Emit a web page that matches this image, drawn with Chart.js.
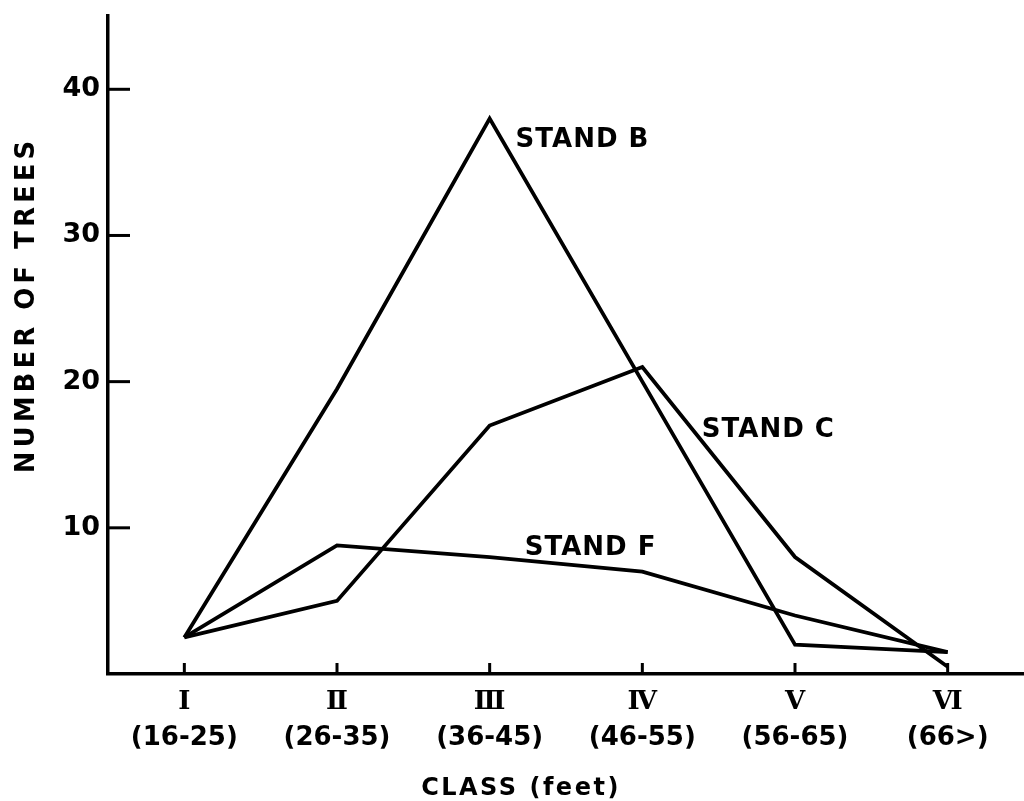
<!DOCTYPE html>
<html>
<head>
<meta charset="utf-8">
<script src="https://cdn.jsdelivr.net/npm/chart.js@4.4.1/dist/chart.umd.min.js"></script>
<style>
  html, body { margin: 0; padding: 0; background: #fff; }
  canvas { display: block; }
</style>
</head>
<body>
<canvas id="treeChart" width="1024" height="801"></canvas>
<script>
// height classes along the bottom
const romanLabels = ['Ⅰ', 'Ⅱ', 'Ⅲ', 'Ⅳ', 'Ⅴ', 'Ⅵ']
const rangeLabels = ['(16-25)', '(26-35)', '(36-45)', '(46-55)', '(56-65)', '(66>)']

// number of trees per class, one array per stand
const standB = [2.5, 19.5, 38, 20, 2, 1.5]
const standC = [2.5, 5, 17, 21, 8, 0.5]
const standF = [2.5, 8.8, 8, 7, 4, 1.5]

const yTicks = [10, 20, 30, 40]

// stand names written next to their lines: [text, class position, value]
const standNotes = [
	['STAND B', 2.17, 36.5],
	['STAND C', 3.39, 16.7],
	['STAND F', 2.23, 8.6]
]

const SANS = '"DejaVu Sans", sans-serif'
const SERIF = '"DejaVu Serif", serif'

function line(name, values) {
	return {
		label: name,
		data: values,
		borderColor: '#000',
		borderWidth: 3.8,
		pointRadius: 0,
		tension: 0,
		fill: false
	}
}

// short inward tick marks, axis titles and the stand names
const drawExtras = {
	id: 'drawExtras',
	afterDraw(chart) {
		const {ctx, chartArea, scales: {x, y}} = chart
		ctx.save()
		ctx.strokeStyle = '#000'
		ctx.fillStyle = '#000'
		ctx.lineWidth = 3
		yTicks.forEach(v => {
			const py = y.getPixelForValue(v)
			ctx.beginPath()
			ctx.moveTo(chartArea.left, py)
			ctx.lineTo(chartArea.left + 22, py)
			ctx.stroke()
		})
		romanLabels.forEach((l, i) => {
			const px = x.getPixelForValue(i)
			ctx.beginPath()
			ctx.moveTo(px, chartArea.bottom)
			ctx.lineTo(px, chartArea.bottom - 11)
			ctx.stroke()
		})

		ctx.font = 'bold 26px ' + SANS
		ctx.letterSpacing = '1px'
		ctx.textAlign = 'left'
		ctx.textBaseline = 'middle'
		standNotes.forEach(([text, at, value]) => {
			ctx.fillText(text, x.getPixelForValue(at), y.getPixelForValue(value))
		})

		ctx.textAlign = 'center'
		ctx.letterSpacing = '4px'
		ctx.save()
		ctx.translate(27, 305)
		ctx.rotate(-Math.PI / 2)
		ctx.fillText('NUMBER OF TREES', 0, 0)
		ctx.restore()

		ctx.font = 'bold 24px ' + SANS
		ctx.letterSpacing = '2.5px'
		ctx.fillText('CLASS (feet)', 521, 789)
		ctx.restore()
	}
}

const chart = new Chart('treeChart', {
	type: 'line',
	data: {
		labels: romanLabels,
		datasets: [line('Stand B', standB), line('Stand C', standC), line('Stand F', standF)]
	},
	options: {
		responsive: false,
		animation: false,
		layout: {padding: {top: 0, right: 0, left: 0, bottom: 0}},
		plugins: {legend: {display: false}, tooltip: {enabled: false}},
		scales: {
			x: {
				offset: true,
				weight: 0,
				grid: {display: false},
				border: {display: true, color: '#000', width: 3.5},
				ticks: {
					color: '#000',
					padding: 7,
					maxRotation: 0,
					font: {family: SERIF, size: 26, weight: 'bold', lineHeight: 1}
				},
				afterFit(scale) { scale.height = 40 }
			},
			x2: {
				type: 'category',
				position: 'bottom',
				labels: rangeLabels,
				offset: true,
				weight: 1,
				grid: {display: false},
				border: {display: false},
				ticks: {
					color: '#000',
					padding: 3,
					maxRotation: 0,
					font: {family: SANS, size: 26, weight: 'bold', lineHeight: 1}
				},
				afterFit(scale) { scale.height = 87 }
			},
			y: {
				min: 0,
				max: 45,
				grid: {display: false},
				border: {display: true, color: '#000', width: 3.5},
				ticks: {
					stepSize: 10,
					includeBounds: false,
					color: '#000',
					padding: 0,
					font: {family: SANS, size: 27, weight: 'bold'},
					callback: v => (v === 0 ? '' : v)
				},
				afterFit(scale) { scale.width = 108 }
			}
		}
	},
	plugins: [drawExtras]
})
</script>
</body>
</html>
